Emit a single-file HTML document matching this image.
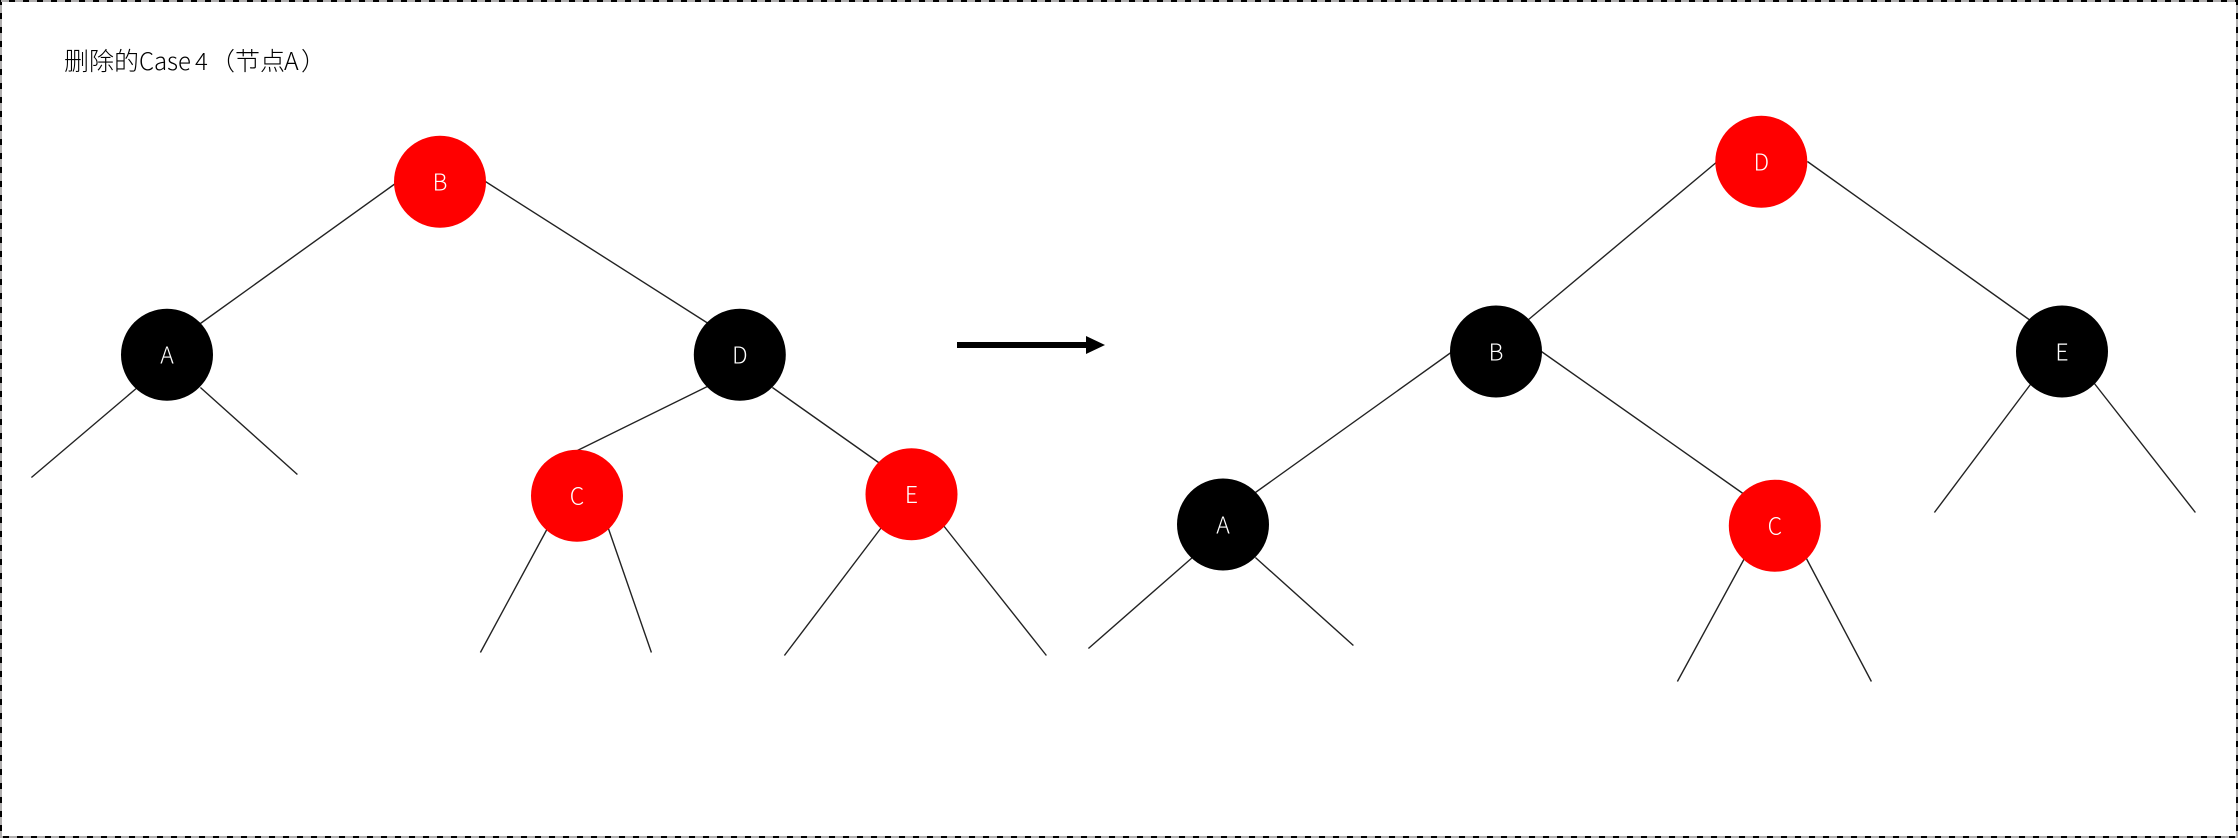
<!DOCTYPE html>
<html><head><meta charset="utf-8"><style>
html,body{margin:0;padding:0;background:#fff;width:2238px;height:838px;overflow:hidden}
svg{display:block}
.l{stroke:#222;stroke-width:1.4;fill:none}
.t{fill:#000;font-family:"Noto Sans CJK SC","Liberation Sans",sans-serif;font-weight:300;font-size:25px}
.n{fill:#fff;font-size:23px;text-anchor:middle;font-family:"Noto Sans CJK SC","Liberation Sans",sans-serif;font-weight:300}
</style></head><body>
<svg width="2238" height="838" viewBox="0 0 2238 838" xmlns="http://www.w3.org/2000/svg">
<rect width="2238" height="838" fill="#fff"/>
<rect x="1" y="1" width="2236" height="836" fill="none" stroke="#000" stroke-width="2"/>
<rect x="1" y="1" width="2236" height="836" fill="none" stroke="#b0aeae" stroke-width="2" stroke-dasharray="8 6"/>
<text class="t" x="64" y="70">删除的</text>
<text class="t" x="139" y="70" style="font-size:24px">Case</text>
<text class="t" x="195" y="70" style="font-size:24px">4</text>
<text class="t" x="210" y="70">（节点</text>
<text class="t" x="284" y="70">A</text>
<text class="t" x="301" y="70">）</text>
<g class="l" transform="translate(0.4,0.5)">
<line x1="395" y1="183" x2="200" y2="323"/><line x1="485" y1="181" x2="711" y2="325"/>
<line x1="137" y1="387" x2="31" y2="477"/><line x1="200" y1="387" x2="297" y2="474"/>
<line x1="709" y1="385" x2="577" y2="450"/><line x1="772" y1="387" x2="881" y2="464"/>
<line x1="547" y1="528" x2="480" y2="652"/><line x1="608" y1="528" x2="651" y2="652"/>
<line x1="881" y1="527" x2="784" y2="655"/><line x1="943" y1="525" x2="1046" y2="655"/>
<line x1="1717" y1="161" x2="1527" y2="320"/><line x1="1807" y1="161" x2="2030" y2="320"/>
<line x1="1452" y1="351" x2="1255" y2="492"/><line x1="1541" y1="351" x2="1744" y2="494"/>
<line x1="2030" y1="384" x2="1934" y2="512"/><line x1="2094" y1="383" x2="2195" y2="512"/>
<line x1="1192" y1="557" x2="1088" y2="648"/><line x1="1255" y1="557" x2="1353" y2="645"/>
<line x1="1744" y1="558" x2="1677" y2="681"/><line x1="1806" y1="558" x2="1871" y2="681"/>
</g>
<rect x="957" y="342" width="131" height="6" fill="#000"/>
<polygon points="1086,336 1105,345 1086,354" fill="#000"/>
<circle cx="440" cy="181.7" r="46" fill="#f00"/><text class="n" x="440" y="190.5">B</text>
<circle cx="167" cy="354.7" r="46" fill="#000"/><text class="n" x="167" y="363.5">A</text>
<circle cx="739.8" cy="354.7" r="46" fill="#000"/><text class="n" x="739.8" y="363.5">D</text>
<circle cx="577" cy="495.7" r="46" fill="#f00"/><text class="n" x="577" y="504.5">C</text>
<circle cx="911.5" cy="494.3" r="46" fill="#f00"/><text class="n" x="911.5" y="503">E</text>
<circle cx="1761.3" cy="161.7" r="46" fill="#f00"/><text class="n" x="1761.3" y="170.5">D</text>
<circle cx="1496" cy="351.5" r="46" fill="#000"/><text class="n" x="1496" y="360.3">B</text>
<circle cx="2062" cy="351.5" r="46" fill="#000"/><text class="n" x="2062" y="360.3">E</text>
<circle cx="1223" cy="524.5" r="46" fill="#000"/><text class="n" x="1223" y="533.3">A</text>
<circle cx="1774.8" cy="525.7" r="46" fill="#f00"/><text class="n" x="1774.8" y="534.5">C</text>
</svg>
</body></html>
